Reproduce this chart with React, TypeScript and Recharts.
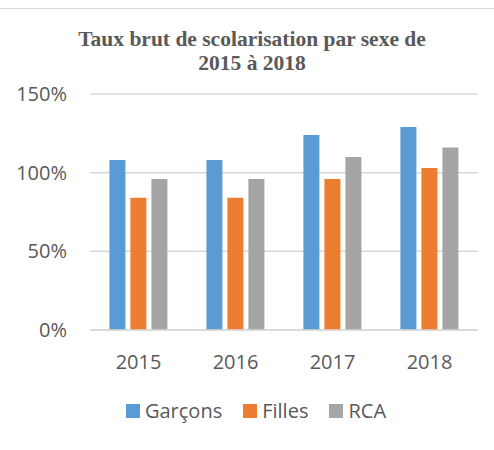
import React from 'react';
import { BarChart, Bar, XAxis, YAxis, CartesianGrid, Legend } from 'recharts';

const years = ['2015', '2016', '2017', '2018'];
const garcons = [108, 108, 124, 129];
const filles = [84, 84, 96, 103];
const rca = [96, 96, 110, 116];
const yTicks = [0, 50, 100, 150];

const seriesInfo = [
  { key: 'garcons', name: 'Garçons', color: '#5B9BD5' },
  { key: 'filles', name: 'Filles', color: '#ED7D31' },
  { key: 'rca', name: 'RCA', color: '#A5A5A5' },
];

const data = years.map((y, i) => ({ year: y, garcons: garcons[i], filles: filles[i], rca: rca[i] }));

const TEXT = '#595959';
const FONT = '"Open Sans", "Liberation Sans", sans-serif';

const renderLegend = (props: any) => {
  const payload = [...(props.payload || [])].sort(
    (a: any, b: any) =>
      seriesInfo.findIndex((s) => s.name === a.value) - seriesInfo.findIndex((s) => s.name === b.value)
  );
  return (
    <div style={{ display: 'flex', justifyContent: 'center', alignItems: 'center', height: 30, width: 494, paddingLeft: 18, boxSizing: 'border-box' }}>
      {payload.map((p: any, i: number) => (
        <div key={i} style={{ display: 'flex', alignItems: 'center', marginRight: i < payload.length - 1 ? 21 : 0 }}>
          <div style={{ width: 14, height: 14, background: p.color, marginRight: 5 }} />
          <span style={{ fontFamily: FONT, fontSize: 20, color: TEXT, lineHeight: '24px' }}>{p.value}</span>
        </div>
      ))}
    </div>
  );
};

export default function App() {
  return (
    <div style={{ position: 'absolute', left: 0, top: 0, width: 494, height: 450, background: '#fff' }}>
      <div style={{ position: 'absolute', left: 0, top: 8, width: 494, height: 0, borderTop: '1.5px solid #d9d9d9' }} />
      <div
        style={{
          position: 'absolute',
          left: 0,
          top: 27,
          width: 504,
          textAlign: 'center',
          fontFamily: '"Liberation Serif", "Times New Roman", serif',
          fontWeight: 'bold',
          fontSize: 21.5,
          lineHeight: '24px',
          color: TEXT,
        }}
      >
        Taux brut de scolarisation par sexe de
        <br />
        2015 à 2018
      </div>
      <BarChart
        width={494}
        height={450}
        data={data}
        margin={{ top: 94, right: 16, left: 0, bottom: 60 }}
        barCategoryGap="20%"
        barGap={5}
      >
        <CartesianGrid vertical={false} stroke="#d9d9d9" strokeWidth={1.5} />
        <XAxis
          dataKey="year"
          height={30}
          tickLine={false}
          axisLine={{ stroke: '#d9d9d9', strokeWidth: 1.5 }}
          tick={{ fill: TEXT, fontSize: 20, fontFamily: FONT }}
          tickMargin={19}
        />
        <YAxis
          width={90}
          domain={[0, 150]}
          ticks={yTicks}
          tickFormatter={(v: number) => `${v}%`}
          axisLine={false}
          tickLine={false}
          tickMargin={17}
          tick={{ fill: TEXT, fontSize: 20, fontFamily: FONT }}
        />
        <Legend
          verticalAlign="bottom"
          content={renderLegend}
          wrapperStyle={{ left: 0, width: 494, bottom: 24 }}
        />
        {seriesInfo.map((s) => (
          <Bar key={s.key} dataKey={s.key} name={s.name} fill={s.color} isAnimationActive={false} />
        ))}
      </BarChart>
    </div>
  );
}
